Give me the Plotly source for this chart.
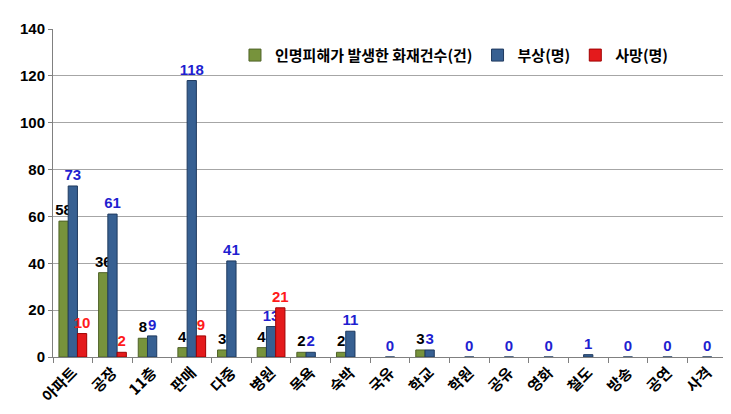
import plotly.graph_objects as go

categories = ['아파트', '공장', '11층', '판매', '다중', '병원', '목욕', '숙박', '국유',
              '학교', '학원', '공유', '영화', '철도', '방송', '공연', '사격']
fires = [58, 36, 8, 4, 3, 4, 2, 2, None, 3, None, None, None, None, None, None, None]
injured = [73, 61, 9, 118, 41, 13, 2, 11, 0, 3, 0, 0, 0, 1, 0, 0, 0]
deaths = [10, 2, None, 9, None, 21, None, None, None, None, None, None, None, None, None, None, None]

def labels(vals):
    return ['' if v is None else str(v) for v in vals]

num_font = 'Liberation Sans'

fig = go.Figure()
fig.add_trace(go.Bar(
    x=categories, y=fires, name='인명피해가 발생한 화재건수(건)',
    marker=dict(color='#77933c', line=dict(color='#4f6228', width=1)),
    text=labels(fires), textposition='outside', cliponaxis=False, constraintext='none',
    textfont=dict(color='black', size=15, family=num_font, weight='bold')
))
fig.add_trace(go.Bar(
    x=categories, y=injured, name='부상(명)',
    marker=dict(color='#376092', line=dict(color='#1f3a5f', width=1)),
    text=labels(injured), textposition='outside', cliponaxis=False, constraintext='none',
    textfont=dict(color='#1f1fd0', size=15, family=num_font, weight='bold')
))
fig.add_trace(go.Bar(
    x=categories, y=deaths, name='사망(명)',
    marker=dict(color='#e41a1c', line=dict(color='#a00000', width=1)),
    text=labels(deaths), textposition='outside', cliponaxis=False, constraintext='none',
    textfont=dict(color='#ff1a1a', size=15, family=num_font, weight='bold')
))

fig.update_layout(
    width=731, height=414,
    margin=dict(l=45, r=12, t=17, b=65),
    paper_bgcolor='white', plot_bgcolor='white',
    barmode='group', bargap=0.3, bargroupgap=0,
    font=dict(family='Noto Sans CJK KR', size=14, color='black'),
    legend=dict(orientation='h', x=0.27, y=0.97, xanchor='left', yanchor='top',
                font=dict(size=15, family='Noto Sans CJK KR', weight='bold'),
                bgcolor='rgba(0,0,0,0)', itemwidth=30),
    showlegend=True,
)
fig.update_yaxes(range=[0, 140], dtick=20, showgrid=True, gridcolor='#a6a6a6',
                 tickfont=dict(family=num_font, size=15, weight='bold'),
                 showline=True, linecolor='#808080', ticks='outside', ticklen=4, tickcolor='#808080')
fig.update_xaxes(tickangle=-45, showline=True, linecolor='#808080', ticks='outside',
                 tickcolor='#808080', tickson='boundaries',
                 tickfont=dict(family='Noto Sans CJK KR', size=15, weight='bold'))

fig.write_html('out.html')
